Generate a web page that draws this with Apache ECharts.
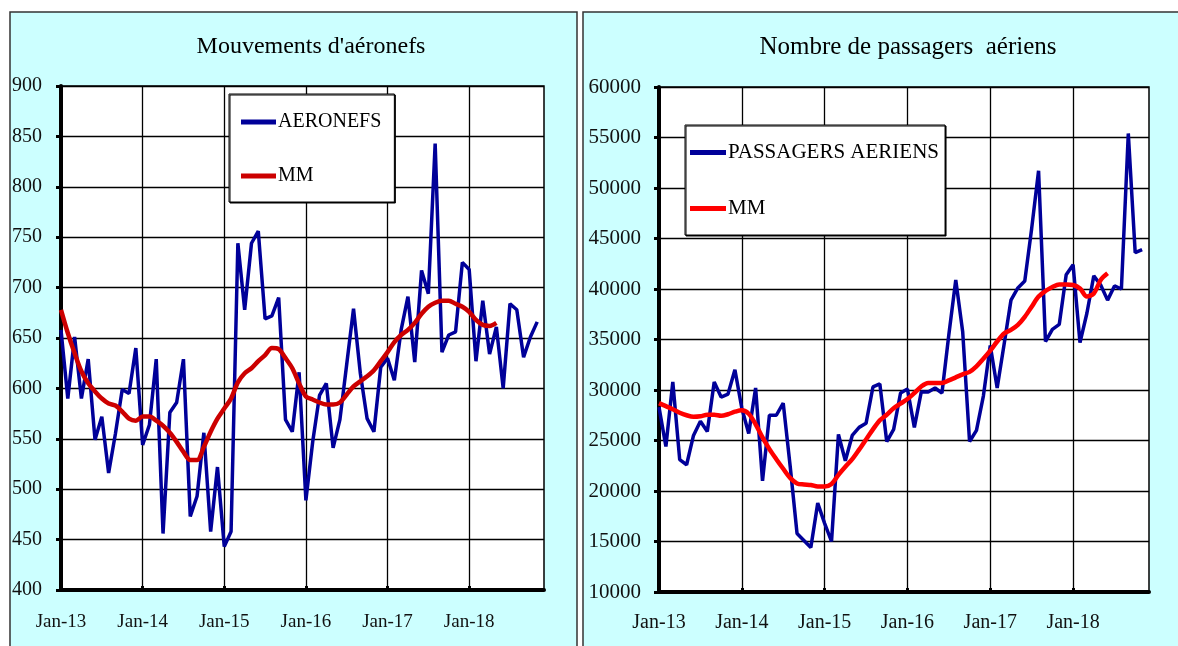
<!DOCTYPE html>
<html>
<head>
<meta charset="utf-8">
<script src="https://cdn.jsdelivr.net/npm/echarts@6/dist/echarts.min.js"></script>
<style>
  html, body { margin: 0; padding: 0; background: #fff; }
  #chart { width: 1178px; height: 646px; }
</style>
</head>
<body>
<div id="chart"></div>
<script>
// months Jan-13 .. Dec-18
const years = ['13', '14', '15', '16', '17', '18']
const monthNames = ['Jan', 'Feb', 'Mar', 'Apr', 'May', 'Jun', 'Jul', 'Aug', 'Sep', 'Oct', 'Nov', 'Dec']
const categories = []
years.forEach(y => monthNames.forEach(m => categories.push(m + '-' + y)))

// Mouvements d'aéronefs (monthly)
const aeronefs = [
  658, 590, 651, 590, 629, 549, 572, 516, 555, 599, 595, 640,
  544, 564, 629, 456, 576, 586, 629, 473, 493, 556, 458, 522,
  443, 458, 744, 678, 744, 756, 669, 672, 690, 569, 557, 616,
  489, 547, 593, 605, 541, 569, 624, 679, 615, 570, 557, 621,
  630, 608, 658, 691, 626, 717, 694, 843, 636, 653, 656, 725,
  718, 627, 687, 634, 661, 600, 684, 678, 631, 651, 666
]
// moyenne mobile aéronefs
const mmAeronefs = [
  678, 655, 635, 617, 605, 597, 590, 585, 583, 577, 570, 568,
  572, 572, 568, 563, 556, 547, 537, 529, 529, 542, 557, 570,
  580, 590, 606, 615, 620, 627, 633, 640, 639, 630, 620, 605,
  592, 589, 586, 584, 584, 586, 594, 602, 607, 612, 618, 627,
  636, 646, 653, 658, 665, 674, 681, 685, 687, 687, 684, 681,
  676, 668, 663, 662, 665
]

// Nombre de passagers aériens (monthly)
const passagers = [
  28300, 24400, 30800, 23100, 22600, 25500, 26900, 25900, 30800, 29300, 29600, 32000,
  28200, 25700, 30200, 21000, 27500, 27500, 28700, 22500, 15800, 15100, 14400, 18800,
  16800, 15000, 25600, 23000, 25500, 26300, 26700, 30300, 30600, 24900, 26100, 29700,
  30100, 26300, 29800, 29800, 30200, 29700, 35500, 40900, 35800, 24900, 26000, 29400,
  34400, 30200, 34500, 38900, 40100, 40800, 46000, 51700, 34800, 36000, 36500, 41400,
  42400, 34700, 37600, 41300, 40400, 38900, 40300, 40000, 55400, 43600, 43900
]
// moyenne mobile passagers
const mmPassagers = [
  28700, 28400, 28100, 27750, 27500, 27350, 27400, 27550, 27550, 27450, 27600, 27850,
  28000, 27650, 26600, 25300, 24150, 23150, 22200, 21300, 20750, 20650, 20600, 20450,
  20450, 20700, 21600, 22400, 23150, 24100, 25100, 26100, 27000, 27550, 28200, 28650,
  29100, 29700, 30350, 30700, 30700, 30700, 30950, 31250, 31550, 31800, 32350, 33100,
  33900, 34800, 35600, 35950, 36450, 37250, 38250, 39250, 39800, 40200, 40450, 40450,
  40400, 40050, 39250, 39550, 40900, 41550
]

const serif = 'Liberation Serif'
const navy = '#000099'

function xAxisFor (gridIndex, size, margin) {
  return {
    type: 'category',
    gridIndex: gridIndex,
    data: categories,
    boundaryGap: false,
    axisLine: { onZero: false, lineStyle: { color: '#000', width: 4 } },
    axisTick: { show: true, inside: true, interval: 11, length: 4, lineStyle: { color: '#000', width: 3 } },
    axisLabel: { interval: 11, margin: margin, color: '#111', fontFamily: serif, fontSize: size },
    splitLine: { show: true, interval: 11, lineStyle: { color: '#000', width: 1.3 } }
  }
}

function yAxisFor (gridIndex, min, max, step, size, margin) {
  return {
    type: 'value',
    gridIndex: gridIndex,
    min: min,
    max: max,
    interval: step,
    axisLine: { show: true, lineStyle: { color: '#000', width: 4 } },
    axisTick: { show: true, length: 5, lineStyle: { color: '#000', width: 3 } },
    axisLabel: { margin: margin, color: '#111', fontFamily: serif, fontSize: size,
      formatter: v => String(v) },
    splitLine: { show: true, lineStyle: { color: '#000', width: 1.3 } }
  }
}

const chart = echarts.init(document.getElementById('chart'))
chart.setOption({
  animation: false,
  backgroundColor: '#fff',
  graphic: [
    { type: 'rect', z: -10, shape: { x: 10, y: 12, width: 567, height: 650 },
      style: { fill: '#ccffff', stroke: '#333', lineWidth: 1.5 } },
    { type: 'rect', z: -10, shape: { x: 583, y: 12, width: 610, height: 650 },
      style: { fill: '#ccffff', stroke: '#333', lineWidth: 1.5 } }
  ],
  title: [
    { text: "Mouvements d'aéronefs", left: 311, top: 35, textAlign: 'center', padding: 0,
      textStyle: { fontFamily: serif, fontSize: 24, fontWeight: 'normal', color: '#000' } },
    { text: 'Nombre de passagers  aériens', left: 908, top: 35, textAlign: 'center', padding: 0,
      textStyle: { fontFamily: serif, fontSize: 25, fontWeight: 'normal', color: '#000' } }
  ],
  legend: [
    {
      left: 229, top: 94, orient: 'vertical', icon: 'rect',
      itemWidth: 35, itemHeight: 5, itemGap: 34,
      padding: [18, 13, 16, 12],
      backgroundColor: '#fff', borderColor: '#000', borderWidth: 1,
      shadowColor: '#000', shadowOffsetX: 1, shadowOffsetY: 1, shadowBlur: 0,
      selectedMode: false,
      textStyle: { fontFamily: serif, fontSize: 20, color: '#000', lineHeight: 20, padding: [0, 0, 0, -3] },
      data: [
        { name: 'AERONEFS', itemStyle: { color: navy } },
        { name: 'MM', itemStyle: { color: '#cc0000' } }
      ]
    },
    {
      left: 685, top: 125, orient: 'vertical', icon: 'rect',
      itemWidth: 36, itemHeight: 5, itemGap: 35,
      padding: [17, 6, 16, 5],
      backgroundColor: '#fff', borderColor: '#000', borderWidth: 1,
      shadowColor: '#000', shadowOffsetX: 1, shadowOffsetY: 1, shadowBlur: 0,
      selectedMode: false,
      textStyle: { fontFamily: serif, fontSize: 21, color: '#000', lineHeight: 20, padding: [0, 0, 0, -3] },
      data: [
        { name: 'PASSAGERS AERIENS', itemStyle: { color: navy } },
        { name: 'MM', itemStyle: { color: '#ff0000' } }
      ]
    }
  ],
  grid: [
    { left: 61, top: 86, width: 483, height: 504, show: true, backgroundColor: '#fff', borderColor: '#000', borderWidth: 1.5 },
    { left: 659, top: 87, width: 490, height: 505, show: true, backgroundColor: '#fff', borderColor: '#000', borderWidth: 1.5 }
  ],
  xAxis: [xAxisFor(0, 19, 23), xAxisFor(1, 20, 21)],
  yAxis: [yAxisFor(0, 400, 900, 50, 20, 19), yAxisFor(1, 10000, 60000, 5000, 21, 18)],
  series: [
    { name: 'AERONEFS', type: 'line', xAxisIndex: 0, yAxisIndex: 0, data: aeronefs,
      showSymbol: false, lineStyle: { color: navy, width: 3.5 }, itemStyle: { color: navy }, z: 3 },
    { name: 'MM', type: 'line', xAxisIndex: 0, yAxisIndex: 0, data: mmAeronefs, smooth: 0.3,
      showSymbol: false, lineStyle: { color: '#cc0000', width: 4.5 }, itemStyle: { color: '#cc0000' }, z: 4 },
    { name: 'PASSAGERS AERIENS', type: 'line', xAxisIndex: 1, yAxisIndex: 1, data: passagers,
      showSymbol: false, lineStyle: { color: navy, width: 3.5 }, itemStyle: { color: navy }, z: 3 },
    { name: 'MM', type: 'line', xAxisIndex: 1, yAxisIndex: 1, data: mmPassagers, smooth: 0.3,
      showSymbol: false, lineStyle: { color: '#ff0000', width: 4.5 }, itemStyle: { color: '#ff0000' }, z: 4 }
  ]
})
</script>
</body>
</html>
